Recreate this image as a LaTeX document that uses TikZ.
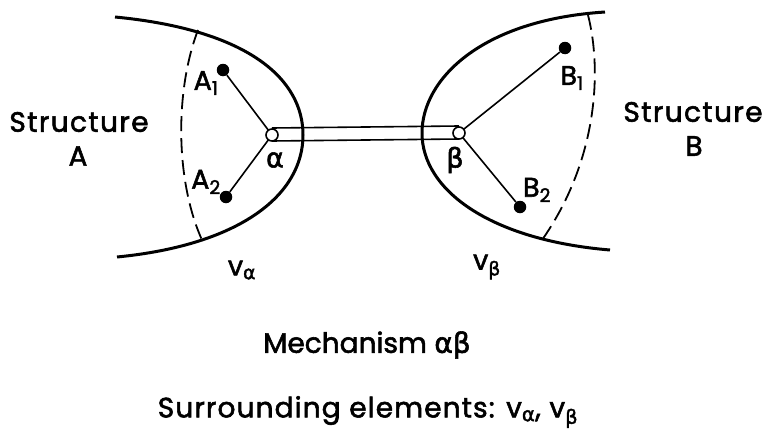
\documentclass[tikz,border=0pt]{standalone}
\usepackage{fontspec}
\usetikzlibrary{calc}
\setmainfont[BoldFont=Poppins, BoldFeatures={FakeBold=2}]{Poppins}
\newfontfamily\popls[LetterSpace=5, BoldFont=Poppins, BoldFeatures={FakeBold=2}]{Poppins}
\newfontfamily\popss[LetterSpace=4, BoldFont=Poppins, BoldFeatures={FakeBold=2}]{Poppins}
\newfontfamily\grk[BoldFont=DejaVu Sans, BoldFeatures={FakeBold=2}]{DejaVu Sans}
\begin{document}
\begin{tikzpicture}[x=1pt,y=-1pt,
  thickline/.style={line width=3pt},
  thinline/.style={line width=1.6pt},
  dashline/.style={line width=1.8pt, dash pattern=on 15pt off 7pt},
  dotnode/.style={circle, fill=black, inner sep=0pt, minimum size=12.5pt},
  hinge/.style={circle, draw=black, fill=white, line width=1.6pt, inner sep=0pt, minimum size=12pt},
  lbl/.style={font=\fontsize{27}{30}\selectfont\bfseries, inner sep=0pt},
  big/.style={font=\fontsize{28}{32}\selectfont\bfseries, inner sep=0pt}]
\useasboundingbox (0,0) rectangle (769,431);
% structure boundaries
\draw[thickline] (115,17) .. controls (250,30) and (303,80) .. (303,135) .. controls (303,195) and (240,245) .. (117,257);
\draw[thickline] (605,12) .. controls (480,20) and (422,80) .. (422,133) .. controls (422,190) and (490,240) .. (610,250);
\draw[dashline] (198,30) .. controls (175,90) and (175,180) .. (202,240);
\draw[dashline] (588,15) .. controls (602,70) and (598,160) .. (542,240);
% nodes
\node[dotnode] (A1) at (223,70) {};
\node[dotnode] (A2) at (226,197) {};
\node[dotnode] (B1) at (565,48) {};
\node[dotnode] (B2) at (520,207) {};
\coordinate (al) at (272,135);
\coordinate (be) at (459,133);
\draw[thinline] (A1) -- (al);
\draw[thinline] (A2) -- (al);
\draw[thinline] (B1) -- (be);
\draw[thinline] (B2) -- (be);
\draw[thinline] ($(al)+(0,-7)$) -- ($(be)+(0,-7)$);
\draw[thinline] ($(al)+(0,6)$) -- ($(be)+(0,6)$);
\node[hinge] (ha) at (al) {};
\node[hinge] (hb) at (be) {};
% labels
\node[lbl] (lA1) at (206,83) {A\textsubscript{1}};
\node[lbl] (lA2) at (206,182) {A\textsubscript{2}};
\node[lbl] (lB1) at (572,78) {B\textsubscript{1}};
\node[lbl] (lB2) at (537,190) {B\textsubscript{2}};
\node[lbl] (lal) at (275,160) {\grk α};
\node[lbl] (lbe) at (455,160) {\grk β};
\node[big] (sA) at (79,122) {\popls Structure};
\node[big] (sA2) at (78,156) {A};
\node[big] (sB) at (693,112) {\popls Structure};
\node[big] (sB2) at (694,146) {B};
\node[lbl] (va) at (242,270) {v\textsubscript{\grk α}};
\node[lbl] (vb) at (487,267) {v\textsubscript{\grk β}};
\node[big] (mech) at (367,345) {Mechanism {\grk αβ}};
\node[big] (surr) at (368,412) {\popss Surrounding elements: v\textsubscript{\grk α}, v\textsubscript{\grk β}};
\end{tikzpicture}
\end{document}
